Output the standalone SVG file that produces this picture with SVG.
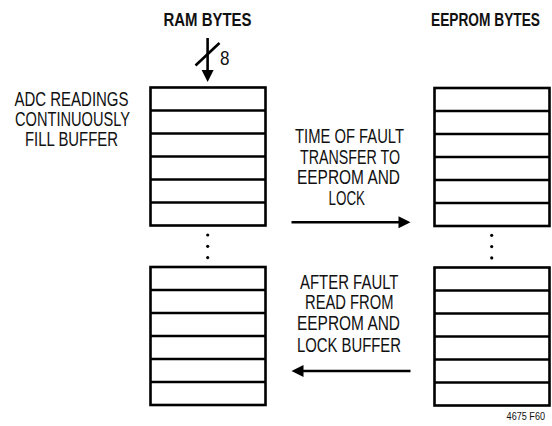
<svg xmlns="http://www.w3.org/2000/svg" width="552" height="426" viewBox="0 0 552 426">
<style>
.box{fill:#fff;stroke:#000;stroke-width:2.6}
.row{stroke:#000;stroke-width:2.4}
.t{font-family:"Liberation Sans",Arial,sans-serif;font-size:20px;fill:#111;text-anchor:middle}
.h{font-family:"Liberation Sans",Arial,sans-serif;font-size:18.5px;font-weight:bold;fill:#111;text-anchor:middle}
.s{font-family:"Liberation Sans",Arial,sans-serif;font-size:11.5px;fill:#111;text-anchor:end}
.ln{stroke:#000;stroke-width:2.6;fill:none}
.dot{fill:#000}
</style>
<defs>
<g id="buf">
<rect class="box" x="0" y="0" width="115" height="138"/>
<line class="row" x1="0" y1="23" x2="115" y2="23"/>
<line class="row" x1="0" y1="46" x2="115" y2="46"/>
<line class="row" x1="0" y1="69" x2="115" y2="69"/>
<line class="row" x1="0" y1="92" x2="115" y2="92"/>
<line class="row" x1="0" y1="115" x2="115" y2="115"/>
</g>
<g id="dots">
<circle class="dot" cx="0" cy="0" r="1.6"/>
<circle class="dot" cx="0" cy="11.3" r="1.6"/>
<circle class="dot" cx="0" cy="22.6" r="1.6"/>
</g>
</defs>

<g id="ram-title"><text class="h" x="207.5" y="26" textLength="88" lengthAdjust="spacingAndGlyphs">RAM BYTES</text></g>
<g id="eeprom-title"><text class="h" transform="translate(485.5,26) scale(0.742,1)" x="0" y="0">EEPROM BYTES</text></g>

<g id="adc-label">
<text class="t" x="71.5" y="106" textLength="114" lengthAdjust="spacingAndGlyphs">ADC READINGS</text>
<text class="t" x="72.5" y="126" textLength="115" lengthAdjust="spacingAndGlyphs">CONTINUOUSLY</text>
<text class="t" x="71.5" y="146" textLength="93" lengthAdjust="spacingAndGlyphs">FILL BUFFER</text>
</g>

<g id="ram-buffer-top"><use href="#buf" x="150.5" y="87.5"/></g>
<g id="ram-dots"><use href="#dots" x="207.7" y="235"/></g>
<g id="ram-buffer-bottom"><use href="#buf" x="150.5" y="267"/></g>

<g id="eeprom-buffer-top"><use href="#buf" x="434.5" y="88"/></g>
<g id="eeprom-dots"><use href="#dots" x="491.7" y="235.3"/></g>
<g id="eeprom-buffer-bottom"><use href="#buf" x="434.5" y="267.5"/></g>

<g id="transfer-label">
<text class="t" x="349.5" y="143" textLength="109" lengthAdjust="spacingAndGlyphs">TIME OF FAULT</text>
<text class="t" x="350" y="163.5" textLength="100" lengthAdjust="spacingAndGlyphs">TRANSFER TO</text>
<text class="t" x="348.5" y="184" textLength="103" lengthAdjust="spacingAndGlyphs">EEPROM AND</text>
<text class="t" x="346.75" y="205" textLength="36.5" lengthAdjust="spacingAndGlyphs">LOCK</text>
</g>

<g id="read-label">
<text class="t" x="349.25" y="288.5" textLength="98.5" lengthAdjust="spacingAndGlyphs">AFTER FAULT</text>
<text class="t" x="349.25" y="309" textLength="88.5" lengthAdjust="spacingAndGlyphs">READ FROM</text>
<text class="t" x="348.5" y="330" textLength="103" lengthAdjust="spacingAndGlyphs">EEPROM AND</text>
<text class="t" x="349" y="351.5" textLength="104" lengthAdjust="spacingAndGlyphs">LOCK BUFFER</text>
</g>

<g id="connectors">
<line class="ln" x1="207.6" y1="38" x2="207.6" y2="72"/>
<polygon points="201.6,70 213.6,70 207.6,82" fill="#000"/>
<line class="ln" x1="195.5" y1="65.5" x2="219.5" y2="43" stroke-width="2.4"/>
<line class="ln" x1="291.5" y1="222.3" x2="400" y2="222.3"/>
<polygon points="398.5,216.3 398.5,228.3 410.5,222.3" fill="#000"/>
<line class="ln" x1="302" y1="371" x2="410.5" y2="371"/>
<polygon points="303.5,365 303.5,377 291.5,371" fill="#000"/>
</g>

<g id="bus-width"><text class="t" x="224.75" y="64.5" textLength="9.5" lengthAdjust="spacingAndGlyphs">8</text></g>
<g id="figure-id"><text class="s" transform="translate(545,420) scale(0.79,1)" x="0" y="0">4675 F60</text></g>
</svg>
